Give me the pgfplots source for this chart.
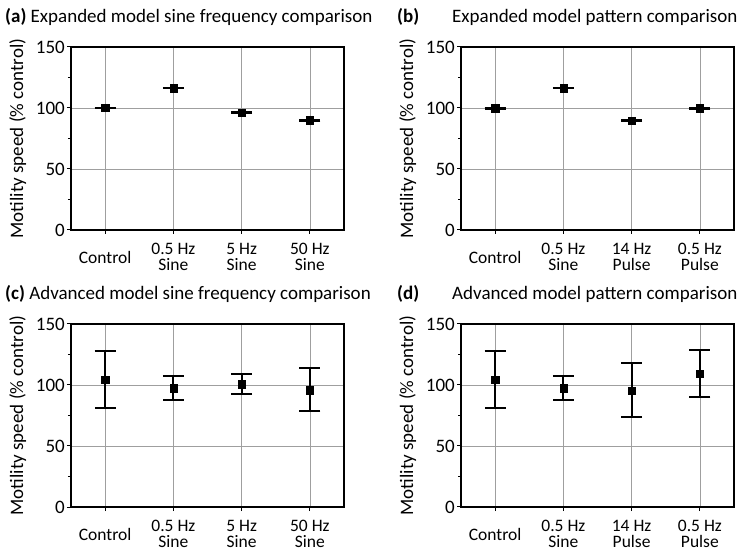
\documentclass[border=0pt]{standalone}
\usepackage{pgfplots}
\pgfplotsset{compat=1.18}
\usepackage{fontspec}
\setmainfont{Carlito}

\pgfplotsset{
 panel/.style={
  scale only axis, width=273bp, height=183bp,
  xmin=-0.5, xmax=3.5, ymin=0, ymax=150,
  xtick={0,1,2,3}, ytick={0,50,100,150}, minor ytick={25,75,125},
  /pgf/number format/assume math mode=true,
  grid=major, major grid style={gray!75, line width=0.6bp},
  axis line style={line width=1.6bp, black},
  tick align=outside, tick pos=left,
  major tick length=4bp, minor tick length=3bp,
  every tick/.style={black, line width=1bp},
  yticklabel style={font=\fontsize{19bp}{22bp}\selectfont, inner sep=2bp},
  xticklabel style={font=\fontsize{17.5bp}{16bp}\selectfont, align=center, anchor=center, yshift=-23bp},
  ylabel={Motility speed (\% control)},
  ylabel style={at={(axis description cs:-0.163,0.5)}, anchor=south, inner sep=0pt, font=\fontsize{19bp}{22bp}\selectfont},
 },
 pts/.style={only marks, draw=black, mark=square*, mark size=3.6bp,
  mark options={draw=black, fill=black},
  error bars/.cd, y dir=both, y explicit,
  error bar style={line width=2bp, black},
  error mark=|,
  error mark options={mark size=10.5bp, line width=2bp, black}},
}

\begin{document}
\begin{tikzpicture}
\path[use as bounding box] (0,0) rectangle (751bp,554bp);
\tikzset{ttl/.style={anchor=base west, font=\fontsize{19bp}{22bp}\selectfont, inner sep=0pt}}

% (a)
\begin{axis}[panel, at={(71bp,324bp)}, anchor=south west,
  xticklabels={Control,{0.5 Hz\\Sine},{5 Hz\\Sine},{50 Hz\\Sine}}]
\addplot[pts] coordinates {
 (0,100.0) +- (0,0.3)
 (1,116.3) +- (0,0.3)
 (2,96.4) +- (0,0.3)
 (3,90.0) +- (0,0.3)
};
\end{axis}

% (b)
\begin{axis}[panel, at={(461bp,324bp)}, anchor=south west,
  xticklabels={Control,{0.5 Hz\\Sine},{14 Hz\\Pulse},{0.5 Hz\\Pulse}}]
\addplot[pts] coordinates {
 (0,99.8) +- (0,0.3)
 (1,116.3) +- (0,0.3)
 (2,89.8) +- (0,0.3)
 (3,99.8) +- (0,0.3)
};
\end{axis}

% (c)
\begin{axis}[panel, at={(71bp,47bp)}, anchor=south west,
  xticklabels={Control,{0.5 Hz\\Sine},{5 Hz\\Sine},{50 Hz\\Sine}}]
\addplot[pts] coordinates {
 (0,104.2) += (0,23.4) -= (0,23.2)
 (1,97.4) += (0,9.8) -= (0,10.1)
 (2,100.6) += (0,8.5) -= (0,7.9)
 (3,95.7) += (0,18.6) -= (0,17.4)
};
\end{axis}

% (d)
\begin{axis}[panel, at={(461bp,47bp)}, anchor=south west,
  xticklabels={Control,{0.5 Hz\\Sine},{14 Hz\\Pulse},{0.5 Hz\\Pulse}}]
\addplot[pts] coordinates {
 (0,104.2) += (0,23.4) -= (0,23.2)
 (1,97.4) += (0,9.8) -= (0,10.1)
 (2,95.5) += (0,22.3) -= (0,22.1)
 (3,109.1) += (0,19.9) -= (0,19.1)
};
\end{axis}

\node[ttl] at (5bp,531bp) {\textbf{(a)} Expanded model sine frequency comparison};
\node[ttl] at (397bp,531bp) {\textbf{(b)}};
\node[ttl] at (452bp,531bp) {Expanded model pattern comparison};
\node[ttl] at (5bp,254bp) {\textbf{(c)} Advanced model sine frequency comparison};
\node[ttl] at (397bp,254bp) {\textbf{(d)}};
\node[ttl] at (452bp,254bp) {Advanced model pattern comparison};
\end{tikzpicture}
\end{document}
